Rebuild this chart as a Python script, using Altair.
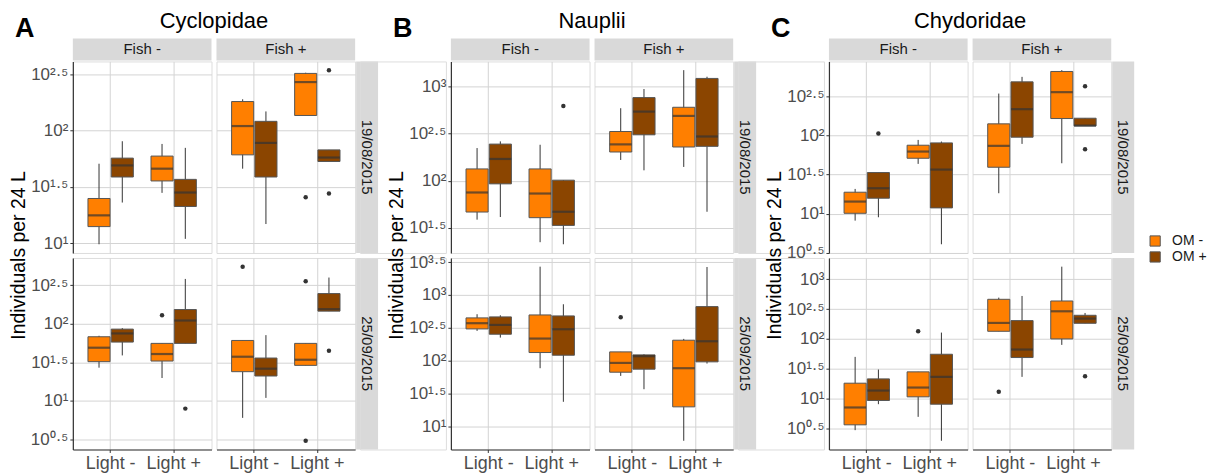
import altair as alt
import pandas as pd

# ---------------- data (log10 of individuals per 24 L) ----------------
TAXA = ["Cyclopidae", "Nauplii", "Chydoridae"]
LETTERS = ["A", "B", "C"]
DATES = ["19/08/2015", "25/09/2015"]
FISH = ["Fish -", "Fish +"]
LIGHT = ["Light -", "Light +"]
OM = ["OM -", "OM +"]
# group order: date x fish x light x om (om fastest)

CYC_LO = [0.99, 1.361, 1.447, 1.038, 1.662, 1.17, 2.135, 1.726,
          1.431, 1.59, 1.297, 1.746, 0.78, 1.039, 1.461, 2.164]
CYC_Q1 = [1.147, 1.588, 1.553, 1.326, 1.785, 1.588, 2.135, 1.726,
          1.509, 1.763, 1.517, 1.746, 1.379, 1.323, 1.461, 2.164]
CYC_MED = [1.247, 1.691, 1.662, 1.45, 2.041, 1.891, 2.432, 1.761,
           1.69, 1.875, 1.608, 2.043, 1.573, 1.418, 1.534, 2.19]
CYC_Q3 = [1.397, 1.756, 1.774, 1.567, 2.259, 2.083, 2.509, 1.829,
          1.832, 1.931, 1.746, 2.185, 1.784, 1.556, 1.746, 2.392]
CYC_HI = [1.706, 1.906, 1.882, 1.847, 2.279, 2.171, 2.515, 1.829,
          1.845, 1.944, 1.746, 2.582, 1.784, 1.853, 1.746, 2.6]
CYC_OUT_GROUP = [6, 7, 7, 10, 11, 12, 14, 14, 15]
CYC_OUT_VAL = [1.408, 2.538, 1.441, 2.112, 0.9, 2.741, 2.552, 0.483, 1.651]

NAU_LO = [1.585, 1.613, 1.345, 1.323, 2.22, 2.11, 2.146, 1.669,
          2.452, 2.35, 1.883, 1.371, 1.766, 1.563, 0.777, 1.954]
NAU_Q1 = [1.666, 1.966, 1.606, 1.524, 2.305, 2.488, 2.358, 2.365,
          2.482, 2.401, 2.122, 2.081, 1.822, 1.868, 1.294, 1.98]
NAU_MED = [1.874, 2.231, 1.863, 1.669, 2.386, 2.735, 2.689, 2.47,
           2.569, 2.543, 2.335, 2.477, 1.964, 2.066, 1.883, 2.294]
NAU_Q3 = [2.125, 2.389, 2.125, 2.005, 2.523, 2.884, 2.781, 3.088,
          2.65, 2.665, 2.695, 2.68, 2.132, 2.086, 2.31, 2.822]
NAU_HI = [2.347, 2.418, 2.382, 2.005, 2.771, 2.975, 3.176, 3.106,
          2.706, 2.69, 3.431, 2.858, 2.132, 2.096, 2.33, 3.426]
NAU_OUT_GROUP = [3, 12]
NAU_OUT_VAL = [2.795, 2.66]

CHY_LO = [0.91, 0.953, 1.637, 0.607, 1.261, 1.893, 1.645, 2.124,
          0.472, 0.907, 0.695, 0.294, 2.129, 1.365, 1.901, 2.263]
CHY_Q1 = [1.004, 1.197, 1.709, 1.073, 1.594, 1.979, 2.218, 2.124,
          0.561, 0.969, 1.03, 0.907, 2.129, 1.689, 2.001, 2.263]
CHY_MED = [1.154, 1.325, 1.795, 1.564, 1.868, 2.338, 2.556, 2.128,
           0.852, 1.136, 1.186, 1.365, 2.269, 1.823, 2.464, 2.342]
CHY_Q3 = [1.274, 1.526, 1.876, 1.906, 2.15, 2.688, 2.821, 2.222,
          1.259, 1.331, 1.449, 1.744, 2.665, 2.308, 2.637, 2.397]
CHY_HI = [1.316, 1.526, 1.944, 1.923, 2.538, 2.752, 2.838, 2.222,
          1.7, 1.488, 1.449, 2.107, 2.693, 2.721, 3.212, 2.436]
CHY_OUT_GROUP = [1, 7, 7, 10, 12, 15]
CHY_OUT_VAL = [2.026, 2.632, 1.825, 2.129, 1.114, 1.376]

STATS = {
    "Cyclopidae": (CYC_LO, CYC_Q1, CYC_MED, CYC_Q3, CYC_HI, CYC_OUT_GROUP, CYC_OUT_VAL),
    "Nauplii": (NAU_LO, NAU_Q1, NAU_MED, NAU_Q3, NAU_HI, NAU_OUT_GROUP, NAU_OUT_VAL),
    "Chydoridae": (CHY_LO, CHY_Q1, CHY_MED, CHY_Q3, CHY_HI, CHY_OUT_GROUP, CHY_OUT_VAL),
}

TICK_VALUES = [0.5, 1, 1.5, 2, 2.5, 3, 3.5]
TICK_TEXT = ["10⁰·⁵", "10¹", "10¹·⁵", "10²", "10²·⁵", "10³", "10³·⁵"]

# ---------------- styling ----------------
FONT = "Liberation Sans"
W, H, GAP = 139, 192, 5
PANEL_GAP = 96
GRID = "#D4D4D4"
STRIP = "#D9D9D9"
COLORS = ["#FF7F00", "#8B4500"]

LABEL_EXPR = " : ".join(
    f"datum.value == {v} ? '{t}'" for v, t in zip(TICK_VALUES[:-1], TICK_TEXT[:-1])
) + f" : '{TICK_TEXT[-1]}'"


def frames(taxon):
    lo, q1, med, q3, hi, og, ov = STATS[taxon]
    keys = [(d, f, l, o) for d in DATES for f in FISH for l in LIGHT for o in OM]
    rows = [dict(date=d, fish=f, light=l, om=o, lo=lo[i], q1=q1[i], med=med[i],
                 q3=q3[i], hi=hi[i]) for i, (d, f, l, o) in enumerate(keys)]
    stats = pd.DataFrame(rows)
    outs = pd.DataFrame([dict(date=keys[g][0], fish=keys[g][1], light=keys[g][2],
                              om=keys[g][3], value=v) for g, v in zip(og, ov)])
    return stats, outs


def text_layer(txt, x, y, size, angle=0, weight="normal", color="#1A1A1A", align="center"):
    return alt.Chart(pd.DataFrame({"t": [txt]})).mark_text(
        font=FONT, fontSize=size, angle=angle, fontWeight=weight, color=color,
        align=align, baseline="middle"
    ).encode(x=alt.value(x), y=alt.value(y), text="t:N")


def rect_layer(x, x2, y, y2):
    return alt.Chart(pd.DataFrame({"t": [0]})).mark_rect(color=STRIP).encode(
        x=alt.value(x), x2=alt.value(x2), y=alt.value(y), y2=alt.value(y2))


def cell(ti, di, fi, stats, outs, dom):
    taxon = TAXA[ti]
    d, f = DATES[di], FISH[fi]
    s = stats[(stats.date == d) & (stats.fish == f)]
    o = outs[(outs.date == d) & (outs.fish == f)]
    if len(o) == 0:
        o = pd.DataFrame({"light": [], "om": [], "value": []})
    left = fi == 0
    bottom = di == 1
    ticks = [v for v in TICK_VALUES if dom[0] <= v <= dom[1]]
    yaxis = alt.Axis(values=ticks, labelExpr=LABEL_EXPR, grid=True, gridColor=GRID,
                     gridWidth=1, labels=left, ticks=left, domain=left,
                     domainColor="#333333", domainWidth=1.2, tickColor="#333333",
                     tickSize=3, labelPadding=2, labelFontSize=17, labelColor="#4D4D4D",
                     labelFont=FONT, title=None)
    xaxis = alt.Axis(grid=True, gridColor=GRID, gridWidth=1, labels=bottom,
                     ticks=bottom, domain=bottom, domainColor="#333333",
                     domainWidth=1.2, tickColor="#333333", tickSize=3,
                     bandPosition=0.5, labelAngle=0, labelFontSize=18,
                     labelColor="#4D4D4D", labelFont=FONT, labelPadding=2, title=None)
    xs = alt.Scale(domain=LIGHT, type="band", paddingInner=0.28, paddingOuter=0.24)
    xos = alt.Scale(domain=OM, paddingInner=0.05, paddingOuter=0)
    ys = alt.Scale(domain=dom, nice=False, zero=False)

    def X():
        return alt.X("light:N", scale=xs, axis=xaxis)

    def XO():
        return alt.XOffset("om:N", scale=xos)

    def Y(field):
        return alt.Y(field + ":Q", scale=ys, axis=yaxis)

    base = alt.Chart(s)
    whisk = base.mark_rule(color="#333333", strokeWidth=1).encode(
        x=X(), xOffset=XO(), y=Y("lo"), y2="hi:Q")
    box = base.mark_bar(stroke="#555555", strokeWidth=1).encode(
        x=X(), xOffset=XO(), y=Y("q1"), y2="q3:Q",
        color=alt.Color("om:N", scale=alt.Scale(domain=OM, range=COLORS),
                        legend=alt.Legend(title=None, orient="none", legendX=1078,
                                          legendY=173, symbolType="square",
                                          symbolSize=105, symbolStrokeColor="#555555",
                                          symbolStrokeWidth=1, labelFontSize=14,
                                          labelFont=FONT, labelColor="#1A1A1A",
                                          labelOffset=10, rowPadding=0,
                                          symbolOpacity=1)))
    med = base.mark_tick(color="#333333", thickness=2.2, size=22, orient="horizontal").encode(
        x=X(), xOffset=XO(), y=Y("med"))
    pts = alt.Chart(o).mark_circle(color="#333333", size=20, opacity=1).encode(
        x=X(), xOffset=XO(), y=Y("value"))
    layers = [whisk, box, med, pts]
    if di == 0:
        layers.append(rect_layer(0, W, -23, -1))
        layers.append(text_layer(f, W / 2, -12, 15))
    if fi == 1:
        layers.append(rect_layer(W + 1, W + 23, 0, H))
        layers.append(text_layer(d, W + 12, H / 2, 15, angle=90))
    if di == 0 and fi == 0:
        layers.append(text_layer(taxon, (2 * W + GAP) / 2, -41, 22, color="black"))
        layers.append(text_layer(LETTERS[ti], -58, -33, 27, weight="bold",
                                 color="black", align="left"))
        layers.append(text_layer("Individuals per 24 L", -54, H + GAP / 2, 19.5,
                                 angle=270, color="black"))
    return alt.layer(*layers).properties(width=W, height=H)


def spacer():
    return alt.Chart(pd.DataFrame({"t": [0]})).mark_point(opacity=0).encode(
        x=alt.value(0), y=alt.value(0)).properties(width=PANEL_GAP - 2 * GAP, height=H)


# build cells for each taxon
cells = {}
for ti, taxon in enumerate(TAXA):
    stats, outs = frames(taxon)
    for di, d in enumerate(DATES):
        sub = stats[stats.date == d]
        vals = list(sub.lo) + list(sub.hi) + list(outs[outs.date == d].value)
        lo, hi = min(vals), max(vals)
        pad = (hi - lo) * 0.05
        dom = [lo - pad, hi + pad]
        for fi in range(2):
            cells[(ti, di, fi)] = cell(ti, di, fi, stats, outs, dom)

items = []
for di in range(2):
    for ti in range(3):
        items.append(cells[(ti, di, 0)])
        items.append(cells[(ti, di, 1)])
        if ti < 2:
            items.append(spacer())

chart = alt.concat(*items, columns=8, spacing=GAP, bounds="flush").properties(
    padding={"left": 0, "top": 0, "right": 0, "bottom": 0}
).configure_view(stroke=None).configure(font=FONT, background="white")

chart.save("out.html", embed_options={"renderer": "svg", "actions": False})
